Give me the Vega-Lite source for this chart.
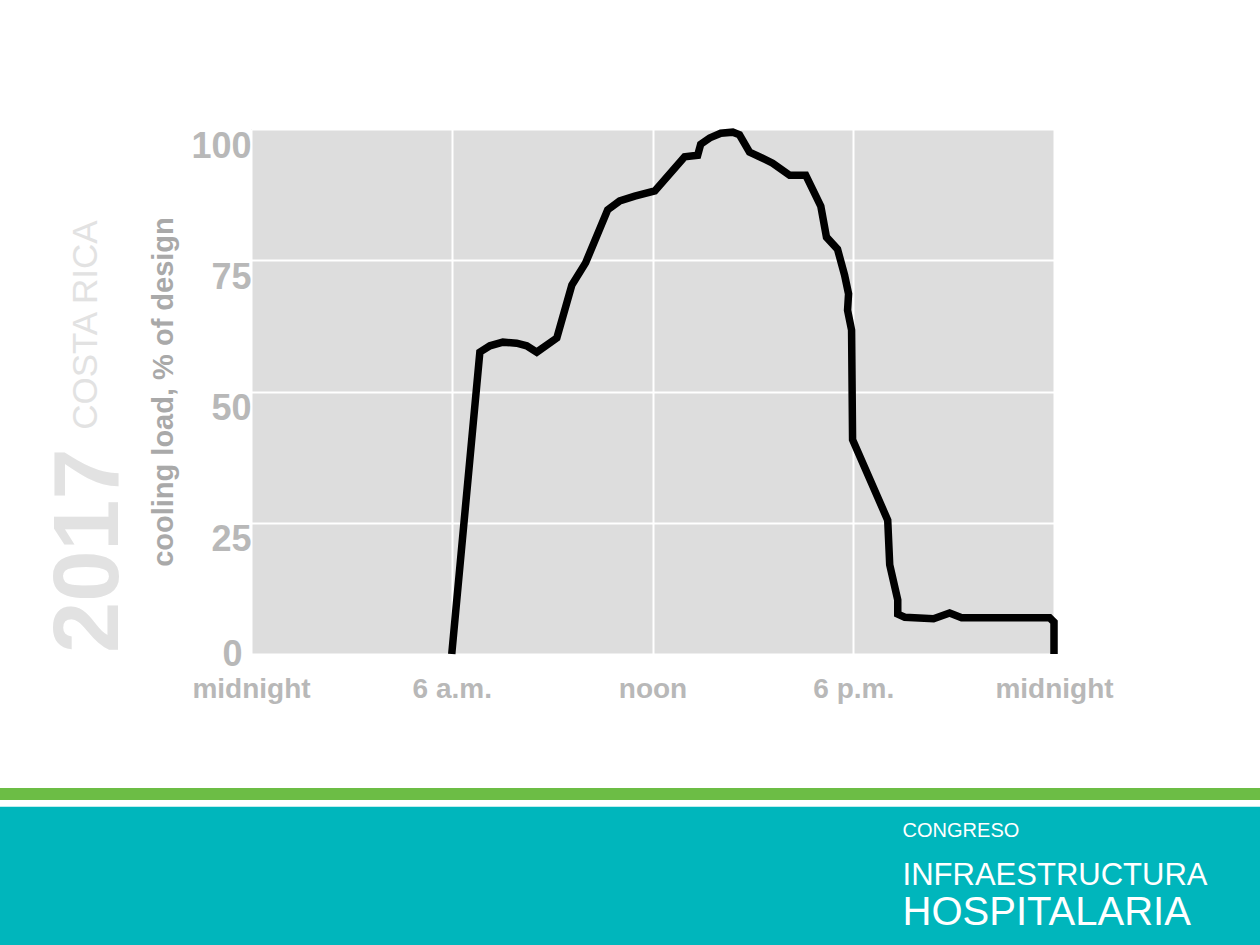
{
  "$schema": "https://vega.github.io/schema/vega-lite/v6.json",
  "width": 803,
  "height": 525,
  "autosize": {"type": "none"},
  "padding": {"left": 251, "top": 129, "right": 206, "bottom": 291},
  "background": "#ffffff",
  "config": {
    "view": {"fill": "#dddddd", "stroke": null},
    "font": "Liberation Sans"
  },
  "layer": [
    {
      "data": {"values": [{"band": "footer"}]},
      "mark": {"type": "rect", "color": "#00b6bc"},
      "encoding": {
        "x": {"datum": -8, "type": "quantitative", "scale": {"domain": [0, 24], "nice": false, "zero": false}},
        "x2": {"datum": 31},
        "y": {"datum": -29.1, "type": "quantitative", "scale": {"domain": [0, 100], "nice": false}},
        "y2": {"datum": -57}
      }
    },
    {
      "data": {"values": [{"band": "stripe"}]},
      "mark": {"type": "rect", "color": "#6cbd45"},
      "encoding": {
        "x": {"datum": -8, "type": "quantitative", "scale": {"domain": [0, 24], "nice": false, "zero": false}},
        "x2": {"datum": 31},
        "y": {"datum": -25.5, "type": "quantitative", "scale": {"domain": [0, 100], "nice": false}},
        "y2": {"datum": -27.8}
      }
    },
    {
      "data": {"values": [{"label": "2017"}]},
      "mark": {"type": "text", "angle": 270, "align": "left", "baseline": "alphabetic", "font": "Liberation Sans", "fontWeight": "bold", "fontSize": 92, "color": "#e2e2e2"},
      "encoding": {
        "text": {"field": "label"},
        "x": {"datum": -3.97, "type": "quantitative", "scale": {"domain": [0, 24], "nice": false, "zero": false}},
        "y": {"datum": 0.19, "type": "quantitative", "scale": {"domain": [0, 100], "nice": false}}
      }
    },
    {
      "data": {"values": [{"label": "COSTA RICA"}]},
      "mark": {"type": "text", "angle": 270, "align": "left", "baseline": "alphabetic", "font": "Liberation Sans", "fontWeight": "normal", "fontSize": 35, "color": "#e2e2e2"},
      "encoding": {
        "text": {"field": "label"},
        "x": {"datum": -4.6, "type": "quantitative", "scale": {"domain": [0, 24], "nice": false, "zero": false}},
        "y": {"datum": 42.7, "type": "quantitative", "scale": {"domain": [0, 100], "nice": false}}
      }
    },
    {
      "data": {"values": [{"label": "CONGRESO"}]},
      "mark": {"type": "text", "align": "left", "baseline": "alphabetic", "font": "Liberation Sans", "fontSize": 20, "color": "#ffffff"},
      "encoding": {
        "text": {"field": "label"},
        "x": {"datum": 19.475, "type": "quantitative", "scale": {"domain": [0, 24], "nice": false, "zero": false}},
        "y": {"datum": -34.86, "type": "quantitative", "scale": {"domain": [0, 100], "nice": false}}
      }
    },
    {
      "data": {"values": [{"label": "INFRAESTRUCTURA"}]},
      "mark": {"type": "text", "align": "left", "baseline": "alphabetic", "font": "Liberation Sans", "fontSize": 31, "color": "#ffffff"},
      "encoding": {
        "text": {"field": "label"},
        "x": {"datum": 19.475, "type": "quantitative", "scale": {"domain": [0, 24], "nice": false, "zero": false}},
        "y": {"datum": -44.0, "type": "quantitative", "scale": {"domain": [0, 100], "nice": false}}
      }
    },
    {
      "data": {"values": [{"label": "HOSPITALARIA"}]},
      "mark": {"type": "text", "align": "left", "baseline": "alphabetic", "font": "Liberation Sans", "fontSize": 40, "color": "#ffffff"},
      "encoding": {
        "text": {"field": "label"},
        "x": {"datum": 19.475, "type": "quantitative", "scale": {"domain": [0, 24], "nice": false, "zero": false}},
        "y": {"datum": -51.62, "type": "quantitative", "scale": {"domain": [0, 100], "nice": false}}
      }
    },
    {
      "data": {
        "values": [
          {"hour": 6.0, "load": 0},
          {"hour": 6.84, "load": 57.5},
          {"hour": 7.14, "load": 58.7},
          {"hour": 7.53, "load": 59.4},
          {"hour": 7.94, "load": 59.2},
          {"hour": 8.24, "load": 58.7},
          {"hour": 8.54, "load": 57.5},
          {"hour": 9.14, "load": 60.2},
          {"hour": 9.59, "load": 70.3},
          {"hour": 10.0, "load": 74.5},
          {"hour": 10.66, "load": 84.6},
          {"hour": 11.02, "load": 86.3},
          {"hour": 11.47, "load": 87.2},
          {"hour": 12.07, "load": 88.2},
          {"hour": 12.96, "load": 94.7},
          {"hour": 13.35, "load": 95.0},
          {"hour": 13.44, "load": 97.1},
          {"hour": 13.71, "load": 98.3},
          {"hour": 14.04, "load": 99.2},
          {"hour": 14.4, "load": 99.4},
          {"hour": 14.6, "load": 98.9},
          {"hour": 14.9, "load": 95.6},
          {"hour": 15.14, "load": 94.9},
          {"hour": 15.59, "load": 93.5},
          {"hour": 16.1, "load": 91.2},
          {"hour": 16.58, "load": 91.2},
          {"hour": 17.03, "load": 85.3},
          {"hour": 17.2, "load": 79.4},
          {"hour": 17.53, "load": 77.1},
          {"hour": 17.74, "load": 72.2},
          {"hour": 17.86, "load": 68.6},
          {"hour": 17.83, "load": 65.5},
          {"hour": 17.95, "load": 61.7},
          {"hour": 17.98, "load": 40.8},
          {"hour": 19.03, "load": 25.5},
          {"hour": 19.09, "load": 17.0},
          {"hour": 19.33, "load": 10.3},
          {"hour": 19.33, "load": 7.6},
          {"hour": 19.54, "load": 7.0},
          {"hour": 20.4, "load": 6.7},
          {"hour": 20.88, "load": 7.8},
          {"hour": 21.24, "load": 6.9},
          {"hour": 23.87, "load": 6.9},
          {"hour": 24.0, "load": 6.1},
          {"hour": 24.0, "load": 0}
        ]
      },
      "mark": {"type": "line", "color": "#000000", "strokeWidth": 7.5, "clip": false},
      "encoding": {
        "x": {
          "field": "hour", "type": "quantitative",
          "scale": {"domain": [0, 24], "nice": false, "zero": false},
          "axis": {
            "values": [0, 6, 12, 18, 24],
            "labelExpr": "datum.value == 6 ? '6 a.m.' : datum.value == 12 ? 'noon' : datum.value == 18 ? '6 p.m.' : 'midnight'",
            "title": null,
            "grid": true, "gridColor": "#ffffff", "gridWidth": 2,
            "domain": false, "ticks": false, "tickSize": 0,
            "labelFont": "Liberation Sans", "labelFontWeight": "bold", "labelFontSize": 28,
            "labelColor": "#b8b8b8", "labelPadding": 21, "labelFlush": false, "labelOverlap": false
          }
        },
        "y": {
          "field": "load", "type": "quantitative",
          "scale": {"domain": [0, 100], "nice": false},
          "axis": {
            "values": [0, 25, 50, 75, 100],
            "title": "cooling load, % of design",
            "titleFont": "Liberation Sans", "titleFontWeight": "bold", "titleFontSize": 29,
            "titleColor": "#a9a9a9", "titlePadding": 12,
            "grid": true, "gridColor": "#ffffff", "gridWidth": 2,
            "domain": false, "ticks": false, "tickSize": 0,
            "labelFont": "Liberation Sans", "labelFontWeight": "bold", "labelFontSize": 36,
            "labelColor": "#b8b8b8",
            "labelPadding": {"condition": {"test": "datum.value == 0", "value": 9}, "value": 0},
            "labelBaseline": "alphabetic",
            "labelOffset": {"condition": {"test": "datum.value == 0", "value": 11}, "value": 28},
            "labelOverlap": false
          }
        },
        "order": {"value": null}
      }
    }
  ]
}
